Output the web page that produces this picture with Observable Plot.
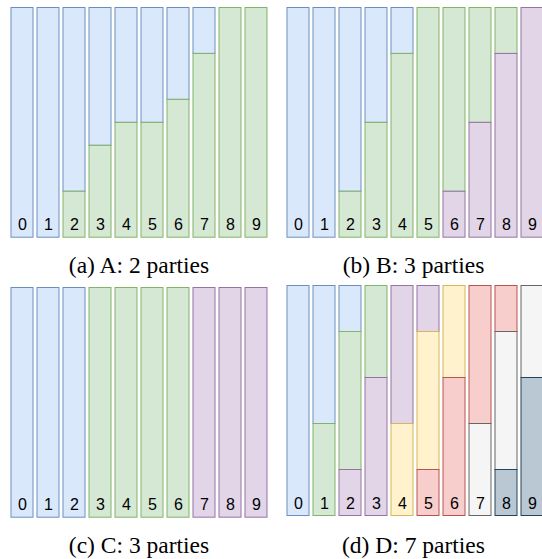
<!DOCTYPE html>
<html>
<head>
<meta charset="utf-8">
<script src="https://cdn.jsdelivr.net/npm/d3@7"></script>
<script src="https://cdn.jsdelivr.net/npm/@observablehq/plot@0.6"></script>
<style>
  html, body { margin: 0; padding: 0; background: #fff; }
  #root { position: relative; width: 542px; height: 559px; overflow: hidden; background: #fff; }
  .panel { position: absolute; }
  .panel svg { max-width: none !important; display: block; }
  .cap { position: absolute; font-family: "Liberation Serif", "Times New Roman", serif; font-size: 23.5px; line-height: 23.5px; color: #000; text-align: center; white-space: nowrap; }
</style>
</head>
<body>
<div id="root"></div>
<script>
// ---- data ----
const clients = [0, 1, 2, 3, 4, 5, 6, 7, 8, 9];
const partyNames = ["blue", "green", "purple", "yellow", "red", "gray", "slate"];
const partyFill = ["#dae8fc", "#d5e8d4", "#e1d5e7", "#fff2cc", "#f8cecc", "#f5f5f5", "#bac8d3"];
const partyStroke = ["#6c8ebf", "#82b366", "#9673a6", "#d6b656", "#b85450", "#666666", "#23445d"];

// (a) A: 2 parties
const A_blue  = [1, 1, 0.8, 0.6, 0.5, 0.5, 0.4, 0.2, 0, 0];
const A_green = [0, 0, 0.2, 0.4, 0.5, 0.5, 0.6, 0.8, 1, 1];
// (b) B: 3 parties
const B_blue   = [1, 1, 0.8, 0.5, 0.2, 0, 0, 0, 0, 0];
const B_green  = [0, 0, 0.2, 0.5, 0.8, 1, 0.8, 0.5, 0.2, 0];
const B_purple = [0, 0, 0, 0, 0, 0, 0.2, 0.5, 0.8, 1];
// (c) C: 3 parties
const C_blue   = [1, 1, 1, 0, 0, 0, 0, 0, 0, 0];
const C_green  = [0, 0, 0, 1, 1, 1, 1, 0, 0, 0];
const C_purple = [0, 0, 0, 0, 0, 0, 0, 1, 1, 1];
// (d) D: 7 parties
const D_blue   = [1, 0.6, 0.2, 0, 0, 0, 0, 0, 0, 0];
const D_green  = [0, 0.4, 0.6, 0.4, 0, 0, 0, 0, 0, 0];
const D_purple = [0, 0, 0.2, 0.6, 0.6, 0.2, 0, 0, 0, 0];
const D_yellow = [0, 0, 0, 0, 0.4, 0.6, 0.4, 0, 0, 0];
const D_red    = [0, 0, 0, 0, 0, 0.2, 0.6, 0.6, 0.2, 0];
const D_gray   = [0, 0, 0, 0, 0, 0, 0, 0.4, 0.6, 0.4];
const D_slate  = [0, 0, 0, 0, 0, 0, 0, 0, 0.2, 0.6];

const captions = ["(a) A: 2 parties", "(b) B: 3 parties", "(c) C: 3 parties", "(d) D: 7 parties"];
const seriesA = [A_blue, A_green];
const seriesB = [B_blue, B_green, B_purple];
const seriesC = [C_blue, C_green, C_purple];
const seriesD = [D_blue, D_green, D_purple, D_yellow, D_red, D_gray, D_slate];

// ---- layout ----
const panels = [
  {series: seriesA, caption: captions[0], left: 0,   top: 0,   width: 271, mLeft: 7.9,  mTop: 7.5, mBottom: 2.8, capLeft: 0,   capTop: 254, capW: 278},
  {series: seriesB, caption: captions[1], left: 271, top: 0,   width: 276, mLeft: 12.9, mTop: 7.5, mBottom: 2.8, capLeft: 271, capTop: 254, capW: 285},
  {series: seriesC, caption: captions[2], left: 0,   top: 280, width: 271, mLeft: 7.9,  mTop: 7.5, mBottom: 2.8, capLeft: 0,   capTop: 534, capW: 278},
  {series: seriesD, caption: captions[3], left: 271, top: 280, width: 276, mLeft: 12.9, mTop: 5.5, mBottom: 4.5, capLeft: 271, capTop: 534, capW: 285}
];

const root = document.getElementById("root");

for (const p of panels) {
  const rows = [];
  p.series.forEach((vals, pi) => {
    vals.forEach((v, ci) => {
      if (v > 0) rows.push({client: clients[ci], party: partyNames[pi], pi, share: v});
    });
  });
  const stackOrder = partyNames.slice(0, p.series.length).reverse();
  const chart = Plot.plot({
    width: p.width,
    height: 240,
    marginLeft: p.mLeft,
    marginRight: 1.1,
    marginTop: p.mTop,
    marginBottom: p.mBottom,
    x: {type: "band", domain: clients, paddingInner: 0.16, paddingOuter: 0.08, axis: null},
    y: {domain: [0, 1], axis: null},
    style: {background: "transparent", overflow: "visible"},
    marks: [
      Plot.barY(rows, Plot.stackY({
        x: "client",
        y: "share",
        z: "party",
        order: stackOrder,
        fill: d => partyFill[d.pi],
        stroke: d => partyStroke[d.pi],
        strokeWidth: 1
      })),
      Plot.text(clients, {
        x: d => d,
        text: d => String(d),
        frameAnchor: "bottom",
        lineAnchor: "bottom",
        dy: -7.5,
        fontSize: 16,
        fontFamily: "Liberation Sans, Arial, sans-serif",
        fill: "#000"
      })
    ]
  });
  const div = document.createElement("div");
  div.className = "panel";
  div.style.left = p.left + "px";
  div.style.top = p.top + "px";
  div.appendChild(chart);
  root.appendChild(div);

  const cap = document.createElement("div");
  cap.className = "cap";
  cap.style.left = p.capLeft + "px";
  cap.style.top = p.capTop + "px";
  cap.style.width = p.capW + "px";
  cap.textContent = p.caption;
  root.appendChild(cap);
}
</script>
</body>
</html>
